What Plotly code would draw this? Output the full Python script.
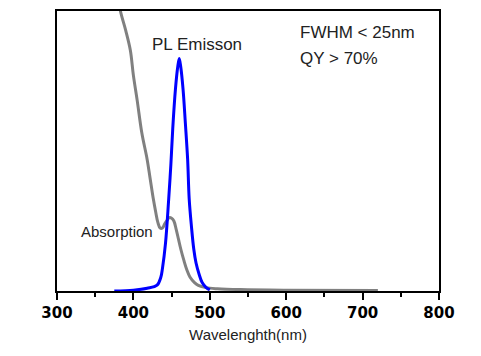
import plotly.graph_objects as go

# Absorption spectrum (normalised)
abs_wl = [378, 383, 390, 396, 400, 405, 411, 418, 422, 426, 429, 432, 435, 438, 441,
          444, 447, 450, 453, 456, 459, 462, 466, 470, 474, 480, 485, 495, 510, 540, 600, 720]
abs_val = [1.08, 1.0, 0.93, 0.86, 0.77, 0.68, 0.565, 0.47, 0.40, 0.33, 0.285, 0.245, 0.225, 0.225, 0.24,
           0.252, 0.262, 0.26, 0.25, 0.22, 0.185, 0.15, 0.11, 0.075, 0.05, 0.03, 0.02, 0.012, 0.008, 0.005, 0.003, 0.002]

# PL emission spectrum (normalised)
pl_wl = [375, 400, 418, 431, 436, 438, 442, 446, 449, 451.5, 455, 458, 460, 462, 465,
         468, 471, 473, 476, 479, 482, 486, 490, 495, 500]
pl_val = [0.0, 0.003, 0.01, 0.021, 0.05, 0.08, 0.17, 0.32, 0.45, 0.58, 0.72, 0.80, 0.83, 0.80, 0.72,
          0.60, 0.47, 0.33, 0.23, 0.15, 0.10, 0.06, 0.03, 0.013, 0.004]

x_ticks = [300, 400, 500, 600, 700, 800]

fig = go.Figure()
fig.add_trace(go.Scatter(x=abs_wl, y=abs_val, mode="lines", line=dict(color="#808080", width=3, shape="spline"),
                         name="Absorption", showlegend=False))
fig.add_trace(go.Scatter(x=pl_wl, y=pl_val, mode="lines", line=dict(color="#0000FF", width=3, shape="spline"),
                         name="PL Emisson", showlegend=False))

txt_font = dict(family="Liberation Sans, Arial, sans-serif", color="#222222")
fig.add_annotation(x=482.6, y=0.882, text="PL Emisson", showarrow=False, xanchor="center", yanchor="middle",
                   font=dict(size=17, **txt_font))
fig.add_annotation(x=615, y=0.923, text="FWHM &lt; 25nm", showarrow=False, xanchor="left", yanchor="middle",
                   font=dict(size=17, **txt_font))
fig.add_annotation(x=615, y=0.829, text="QY &gt; 70%", showarrow=False, xanchor="left", yanchor="middle",
                   font=dict(size=17, **txt_font))
fig.add_annotation(x=428.7, y=0.214, text="Absorption", showarrow=False, xanchor="right", yanchor="middle",
                   font=dict(size=15, **txt_font))

fig.update_layout(
    width=481, height=356,
    margin=dict(l=57, r=42, t=11, b=65, autoexpand=False),
    plot_bgcolor="white", paper_bgcolor="white",
    showlegend=False,
)
fig.update_xaxes(
    range=[300, 800], tickvals=x_ticks, ticktext=[f"<b>{v}</b>" for v in x_ticks],
    tickfont=dict(family="DejaVu Sans", size=15, color="black"),
    ticks="outside", ticklen=7, tickwidth=2, tickcolor="black",
    minor=dict(ticks="outside", ticklen=4, tickwidth=2, tickcolor="black", dtick=50, tick0=350),
    showline=True, linecolor="black", linewidth=2, mirror=True,
    showgrid=False, zeroline=False, automargin=False,
    title=dict(text="Wavelenghth(nm)", font=dict(family="Liberation Sans, Arial, sans-serif", size=15, color="#222222"),
               standoff=8),
)
fig.update_yaxes(
    range=[0, 1], showticklabels=False, ticks="",
    showline=True, linecolor="black", linewidth=2, mirror=True,
    showgrid=False, zeroline=False, automargin=False,
)

fig.write_html("out.html", config={"displayModeBar": False},
               post_script="document.body.style.margin='0';")
